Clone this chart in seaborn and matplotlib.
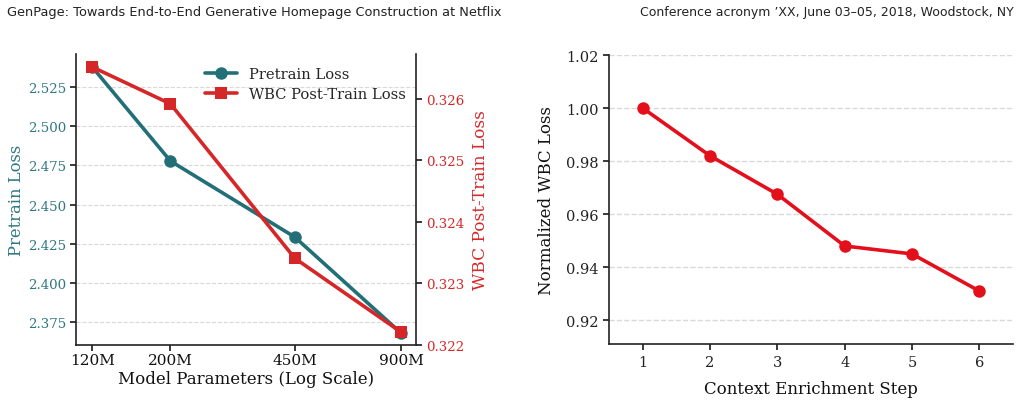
import matplotlib
matplotlib.use("Agg")
import matplotlib.pyplot as plt
import matplotlib.ticker as mticker
import seaborn as sns
import pandas as pd

# ---- data ----
model_params = [120, 200, 450, 900]           # millions
param_labels = ["120M", "200M", "450M", "900M"]
pretrain_loss = [2.5378, 2.4778, 2.4293, 2.3681]
wbc_post_loss = [0.32652, 0.32592, 0.32341, 0.32221]

steps = [1, 2, 3, 4, 5, 6]
norm_wbc_loss = [1.000, 0.982, 0.9675, 0.948, 0.945, 0.931]

header_left = "GenPage: Towards End-to-End Generative Homepage Construction at Netflix"
header_right = "Conference acronym \u2019XX, June 03\u201305, 2018, Woodstock, NY"

sns.set_theme(style="white")
plt.rcParams["font.family"] = ["DejaVu Serif"]

TEAL = "#236f78"
TEAL_TXT = "#2f7880"
RED = "#d62728"
RED2 = "#e3101c"
GRID = "#d9d9d9"

fig = plt.figure(figsize=(10.21, 4.06), dpi=100)
fig.text(0.007, 0.968, header_left, ha="left", va="center", fontsize=9.3,
         family=["DejaVu Sans"], color="#222222")
fig.text(0.993, 0.968, header_right, ha="right", va="center", fontsize=9,
         family=["DejaVu Sans"], color="#222222")

# ---- left panel ----
ax1 = fig.add_axes([0.0744, 0.1478, 0.333, 0.7167])
df1 = pd.DataFrame({"params": model_params, "pretrain": pretrain_loss, "wbc": wbc_post_loss})
sns.lineplot(data=df1, x="params", y="pretrain", ax=ax1, color=TEAL, linewidth=2.6,
             marker="o", markersize=9, markeredgewidth=0, label="Pretrain Loss", legend=False)
ax1.set_xscale("log")
ax1.set_xlim(108, 992)
ax1.xaxis.set_major_locator(mticker.FixedLocator(model_params))
ax1.xaxis.set_major_formatter(mticker.FixedFormatter(param_labels))
ax1.xaxis.set_minor_locator(mticker.NullLocator())
ax1.set_ylim(2.3605, 2.546)
ax1.yaxis.set_major_locator(mticker.MultipleLocator(0.025))
ax1.yaxis.set_major_formatter(mticker.FormatStrFormatter("%.3f"))
ax1.grid(axis="y", linestyle="--", color=GRID, linewidth=0.8)
ax1.grid(axis="x", visible=False)
ax1.set_xlabel("Model Parameters (Log Scale)", fontsize=12, color="#111111", labelpad=2)
ax1.set_ylabel("Pretrain Loss", fontsize=11.8, color=TEAL_TXT, labelpad=2)
ax1.tick_params(axis="y", color="#222222", labelcolor=TEAL_TXT, labelsize=9.6, length=4, left=True, pad=3)
ax1.tick_params(axis="x", color="#222222", labelcolor="#111111", labelsize=11, length=4, bottom=True, pad=2)
for s in ["left", "bottom"]:
    ax1.spines[s].set_color("#222222")
    ax1.spines[s].set_linewidth(1.2)
ax1.spines["top"].set_visible(False)
ax1.spines["right"].set_visible(False)

ax2 = ax1.twinx()
sns.lineplot(data=df1, x="params", y="wbc", ax=ax2, color=RED, linewidth=2.6,
             marker="s", markersize=9, markeredgewidth=0, label="WBC Post-Train Loss", legend=False)
ax2.set_ylim(0.322, 0.32673)
ax2.yaxis.set_major_locator(mticker.MultipleLocator(0.001))
ax2.yaxis.set_major_formatter(mticker.FormatStrFormatter("%.3f"))
ax2.set_ylabel("WBC Post-Train Loss", fontsize=12.2, color=RED, labelpad=6)
ax2.tick_params(axis="y", color="#222222", labelcolor=RED, labelsize=9.6, length=4, right=True, pad=3)
ax2.grid(False)
ax2.spines["right"].set_color("#222222")
ax2.spines["right"].set_linewidth(1.2)
for s in ["top", "left", "bottom"]:
    ax2.spines[s].set_visible(False)

h1, l1 = ax1.get_legend_handles_labels()
h2, l2 = ax2.get_legend_handles_labels()
ax2.legend(h1 + h2, l1 + l2, loc="upper right", bbox_to_anchor=(1.0, 0.99), frameon=False,
           fontsize=10.6, handlelength=2.2, borderaxespad=0.3, labelspacing=0.4)

# ---- right panel ----
ax3 = fig.add_axes([0.5965, 0.150, 0.3957, 0.712])
df2 = pd.DataFrame({"step": steps, "loss": norm_wbc_loss})
sns.lineplot(data=df2, x="step", y="loss", ax=ax3, color=RED2, linewidth=2.6,
             marker="o", markersize=9, markeredgewidth=0, legend=False)
ax3.set_xlim(0.5, 6.5)
ax3.set_ylim(0.911, 1.02)
ax3.xaxis.set_major_locator(mticker.FixedLocator(steps))
ax3.yaxis.set_major_locator(mticker.MultipleLocator(0.02))
ax3.yaxis.set_major_formatter(mticker.FormatStrFormatter("%.2f"))
ax3.grid(axis="y", linestyle="--", color=GRID, linewidth=1.0)
ax3.grid(axis="x", visible=False)
ax3.set_xlabel("Context Enrichment Step", fontsize=12, color="#111111", labelpad=8)
ax3.set_ylabel("Normalized WBC Loss", fontsize=12, color="#111111", labelpad=8)
ax3.tick_params(axis="both", colors="#222222", labelsize=10.5, length=4, left=True, bottom=True)
for s in ["left", "bottom"]:
    ax3.spines[s].set_color("#222222")
    ax3.spines[s].set_linewidth(1.2)
ax3.spines["top"].set_visible(False)
ax3.spines["right"].set_visible(False)

fig.savefig("out.png", dpi=100)
